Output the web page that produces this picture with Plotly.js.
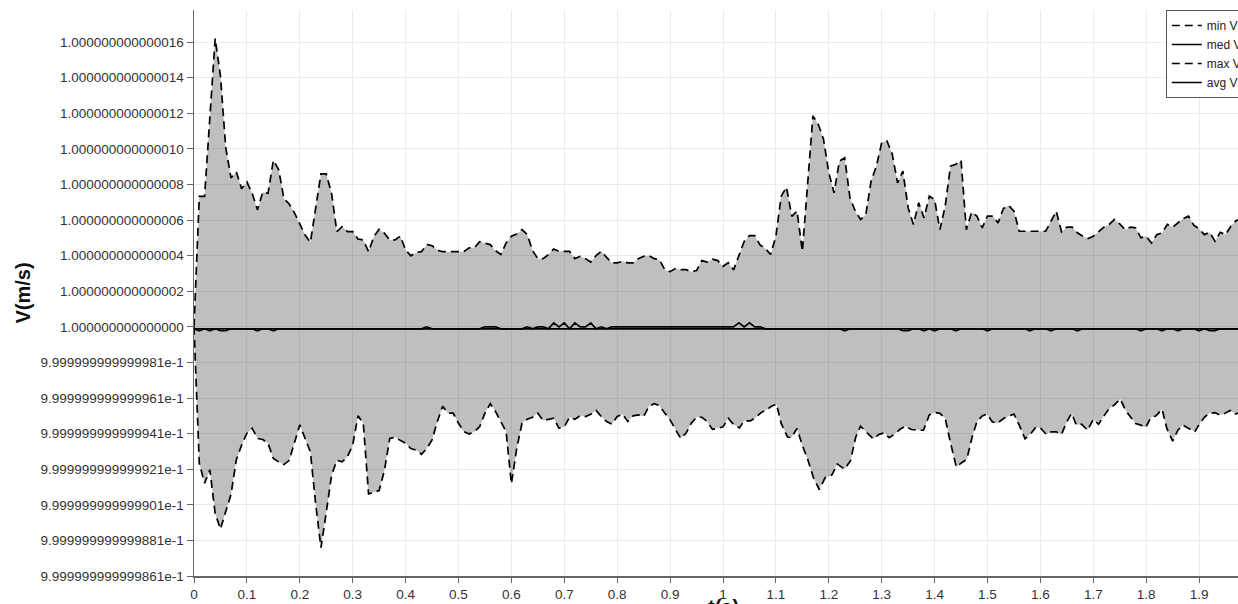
<!DOCTYPE html>
<html>
<head>
<meta charset="utf-8">
<script src="https://cdn.plot.ly/plotly-3.0.1.min.js"></script>
<style>
html,body{margin:0;padding:0;overflow:hidden;background:#fff;}
#chart{width:1300px;height:604px;}
</style>
</head>
<body>
<div id="chart"></div>
<script>
// Velocity deviation from 1 m/s, in units of 1e-15 m/s (y = 1 + v*1e-15)
// Sample times (s) for the regularly sampled parts: 0.00 .. 1.98 every 0.01
const sampleStep = 0.01;
const sampleCount = 199;

// max V, t = 0.00 .. 1.98
const maxV = [
 0, 7.33, 7.33, 11.7, 16.19, 14.1, 10.06, 8.37, 8.7, 7.76,
 8.14, 7.5, 6.57, 7.57, 7.5, 9.35, 8.84, 7.2, 6.9, 6.4,
 5.8, 5.16, 4.75, 6.67, 8.59, 8.59, 7.5, 5.35, 5.63, 5.35,
 5.35, 4.93, 4.88, 4.22, 5.07, 5.48, 5.26, 4.88, 4.88, 5.1,
 4.31, 3.99, 4.18, 4.22, 4.63, 4.56, 4.31, 4.22, 4.22, 4.22,
 4.22, 4.22, 4.44, 4.44, 4.78, 4.71, 4.62, 4.28, 4.06, 4.71,
 5.09, 5.22, 5.46, 5.18, 4.28, 3.83, 3.83, 4.06, 4.37, 4.24,
 4.24, 4.24, 3.83, 3.96, 3.83, 3.64, 4.0, 4.24, 3.9, 3.59,
 3.59, 3.68, 3.59, 3.59, 3.83, 3.96, 4.0, 3.83, 3.77, 3.21,
 3.1, 3.27, 3.21, 3.21, 3.1, 3.16, 3.72, 3.64, 3.8, 3.72,
 3.4, 3.6, 3.2, 4.0, 4.8, 5.12, 5.12, 4.6, 4.4, 4.06,
 5.09, 7.34, 7.85, 6.21, 6.5, 4.24, 8.0, 11.85, 11.38, 10.54,
 8.66, 7.53, 9.31, 9.5, 7.25, 6.5, 6.03, 6.31, 8.19, 9.03,
 10.35, 10.44, 9.69, 8.09, 8.75, 6.69, 5.75, 6.97, 6.12, 7.34,
 7.15, 5.46, 6.78, 9.03, 9.13, 9.35, 5.46, 6.44, 6.22, 5.56,
 6.22, 6.22, 5.84, 6.65, 6.82, 6.5, 5.37, 5.37, 5.37, 5.37,
 5.37, 5.37, 5.93, 6.5, 5.33, 5.6, 5.6, 5.28, 5.09, 4.96,
 5.09, 5.33, 5.6, 5.75, 6.03, 5.78, 5.46, 5.6, 5.56, 5.0,
 5.09, 4.71, 5.18, 5.28, 5.75, 5.6, 5.84, 6.08, 6.22, 5.71,
 5.5, 5.18, 5.31, 4.81, 5.31, 5.18, 5.65, 5.97, 6.03
];

// min V, t = 0.00 .. 0.99
const minVEarly = [
 0, -7.66, -8.79, -8.03, -10.48, -11.36, -10.38, -9.41, -7.47, -6.65,
 -5.98, -5.7, -6.27, -6.33, -6.55, -7.4, -7.59, -7.74, -7.5, -6.55,
 -5.51, -6.27, -7.02, -9.95, -12.41, -10.43, -8.35, -7.5, -7.59, -7.3,
 -6.65, -5.0, -5.42, -9.39, -9.29, -9.2, -8.06, -6.27, -6.21, -6.36,
 -6.55, -6.84, -6.93, -7.16, -6.84, -6.36, -5.32, -4.47, -4.85, -4.85,
 -5.42, -5.89, -6.02, -5.89, -5.61, -4.85, -4.32, -4.76, -5.32, -5.89,
 -8.82, -6.84, -5.42, -5.19, -5.08, -4.85, -5.27, -5.19, -5.13, -5.7,
 -5.61, -5.08, -5.19, -5.0, -5.04, -4.91, -4.7, -5.04, -5.32, -5.47,
 -5.04, -4.91, -5.32, -5.0, -4.95, -5.04, -4.47, -4.32, -4.43, -4.85,
 -5.23, -5.76, -6.27, -5.98, -5.42, -5.08, -5.08, -5.32, -5.76, -5.7
];
// min V, later part, read with its own times
const minTLate = [
 1.000, 1.010, 1.020, 1.031, 1.040, 1.052, 1.062, 1.072, 1.082, 1.091,
 1.101, 1.110, 1.122, 1.129, 1.140, 1.150, 1.161, 1.171, 1.182, 1.193,
 1.206, 1.216, 1.230, 1.241, 1.251, 1.260, 1.273, 1.284, 1.295, 1.305,
 1.314, 1.324, 1.334, 1.345, 1.356, 1.369, 1.379, 1.390, 1.401, 1.410,
 1.420, 1.429, 1.441, 1.452, 1.461, 1.471, 1.480, 1.490, 1.499, 1.509,
 1.518, 1.531, 1.541, 1.550, 1.560, 1.571, 1.582, 1.592, 1.601, 1.611,
 1.621, 1.630, 1.640, 1.649, 1.659, 1.668, 1.678, 1.689, 1.700, 1.710,
 1.719, 1.729, 1.740, 1.751, 1.761, 1.770, 1.780, 1.790, 1.799, 1.809,
 1.818, 1.830, 1.839, 1.850, 1.860, 1.869, 1.881, 1.892, 1.901, 1.911,
 1.920, 1.930, 1.939, 1.949, 1.959, 1.968, 1.976
];
const minVLate = [
 -5.62, -5.14, -5.49, -5.68, -5.28, -5.28, -5.09, -4.82, -4.67, -4.48,
 -4.34, -5.43, -6.19, -6.23, -5.71, -6.67, -7.52, -8.48, -9.14, -8.48,
 -8.32, -7.71, -8.0, -7.52, -6.19, -5.58, -6.0, -6.3, -6.04, -5.96,
 -6.23, -6.04, -5.77, -5.58, -5.77, -5.77, -5.81, -4.95, -4.82, -4.86,
 -5.14, -6.38, -7.87, -7.62, -7.43, -6.19, -5.33, -5.01, -4.9, -5.33,
 -5.43, -5.14, -5.01, -4.9, -5.52, -6.29, -6.0, -5.62, -5.71, -6.04,
 -5.9, -5.9, -6.04, -5.39, -4.86, -5.52, -5.47, -5.81, -5.2, -5.47,
 -5.05, -4.63, -4.38, -4.06, -4.7, -5.05, -5.43, -5.52, -5.66, -5.09,
 -5.01, -4.63, -5.71, -6.42, -5.81, -5.52, -5.71, -5.9, -5.43, -5.05,
 -4.86, -4.82, -4.95, -4.86, -4.7, -4.9, -4.82
];

// med V, t = 0.00 .. 1.98
const medV = [
 -0.111, -0.222, -0.111, -0.222, -0.111, -0.222, -0.222, -0.111, -0.111, -0.111,
 -0.111, -0.111, -0.222, -0.111, -0.111, -0.222, -0.111, -0.111, -0.111, -0.111,
 -0.111, -0.111, -0.111, -0.111, -0.111, -0.111, -0.111, -0.111, -0.111, -0.111,
 -0.111, -0.111, -0.111, -0.111, -0.111, -0.111, -0.111, -0.111, -0.111, -0.111,
 -0.111, -0.111, -0.111, -0.111, 0, -0.111, -0.111, -0.111, -0.111, -0.111,
 -0.111, -0.111, -0.111, -0.111, -0.111, 0, 0, 0, -0.111, -0.111,
 -0.111, -0.111, -0.111, 0, -0.111, 0, 0, -0.111, 0.222, 0,
 0.222, -0.111, 0.222, 0, 0, 0.222, -0.111, 0, -0.111, 0,
 0, 0, 0, 0, 0, 0, 0, 0, 0, 0,
 0, 0, 0, 0, 0, 0, 0, 0, 0, 0,
 0, 0, 0, 0.222, 0, 0.222, 0, 0, -0.111, -0.111,
 -0.111, -0.111, -0.111, -0.111, -0.111, -0.111, -0.111, -0.111, -0.111, -0.111,
 -0.111, -0.111, -0.111, -0.222, -0.111, -0.111, -0.111, -0.111, -0.111, -0.111,
 -0.111, -0.111, -0.111, -0.111, -0.222, -0.222, -0.111, -0.111, -0.222, -0.111,
 -0.222, -0.111, -0.111, -0.111, -0.222, -0.111, -0.111, -0.111, -0.111, -0.111,
 -0.222, -0.111, -0.111, -0.111, -0.111, -0.111, -0.111, -0.111, -0.222, -0.111,
 -0.111, -0.111, -0.222, -0.111, -0.111, -0.111, -0.111, -0.222, -0.111, -0.111,
 -0.111, -0.111, -0.111, -0.111, -0.111, -0.111, -0.111, -0.111, -0.111, -0.222,
 -0.111, -0.111, -0.111, -0.222, -0.111, -0.111, -0.222, -0.111, -0.111, -0.111,
 -0.222, -0.111, -0.222, -0.222, -0.111, -0.111, -0.111, -0.111, -0.111
];

// avg V (constant just below 1)
const avgT = [0, 1.98];
const avgV = [-0.111, -0.111];

// y tick positions and their labels
const yTickVals = [-14, -12, -10, -8, -6, -4, -2, 0, 2, 4, 6, 8, 10, 12, 14, 16];
const yTickText = [
 "9.999999999999861e-1", "9.999999999999881e-1", "9.999999999999901e-1",
 "9.999999999999921e-1", "9.999999999999941e-1", "9.999999999999961e-1",
 "9.999999999999981e-1", "1.000000000000000", "1.000000000000002",
 "1.000000000000004", "1.000000000000006", "1.000000000000008",
 "1.000000000000010", "1.000000000000012", "1.000000000000014",
 "1.000000000000016"
];

const sampleT = [];
for (let i = 0; i < sampleCount; i++) sampleT.push(+(i * sampleStep).toFixed(2));
const minT = sampleT.slice(0, minVEarly.length).concat(minTLate);
const minV = minVEarly.concat(minVLate);

const FONT = '"Liberation Sans", Arial, sans-serif';
const bandFill = 'rgba(0,0,0,0.25)';
const dashPat = '8px,5px';

const traces = [
  {x: sampleT, y: maxV, mode: 'lines', fill: 'tozeroy', fillcolor: bandFill,
   line: {width: 0}, showlegend: false, hoverinfo: 'skip'},
  {x: minT, y: minV, mode: 'lines', fill: 'tozeroy', fillcolor: bandFill,
   line: {width: 0}, showlegend: false, hoverinfo: 'skip'},
  {x: minT, y: minV, mode: 'lines', name: 'min V',
   line: {color: '#000', width: 1.7, dash: dashPat}},
  {x: sampleT, y: medV, mode: 'lines', name: 'med V',
   line: {color: '#000', width: 1.7}},
  {x: sampleT, y: maxV, mode: 'lines', name: 'max V',
   line: {color: '#000', width: 1.7, dash: dashPat}},
  {x: avgT, y: avgV, mode: 'lines', name: 'avg V',
   line: {color: '#000', width: 1.7}}
];

const layout = {
  width: 1300, height: 604,
  margin: {l: 194, r: 48, t: 10, b: 28, autoexpand: false},
  paper_bgcolor: '#fff', plot_bgcolor: '#fff',
  font: {family: FONT, color: '#333', size: 13.5},
  xaxis: {
    range: [0, 2], tick0: 0, dtick: 0.1,
    showgrid: true, gridcolor: '#ebebeb', gridwidth: 1,
    zeroline: false, showline: true, linecolor: '#666', linewidth: 1.5,
    ticks: 'outside', ticklen: 5, tickcolor: '#666', tickwidth: 1,
    tickfont: {family: FONT, size: 13.5, color: '#333'},
    automargin: false
  },
  yaxis: {
    range: [-14, 17.8], tickmode: 'array', tickvals: yTickVals, ticktext: yTickText,
    showgrid: true, gridcolor: '#ebebeb', gridwidth: 1,
    zeroline: false, showline: true, linecolor: '#666', linewidth: 1.5,
    ticks: 'outside', ticklen: 6, tickcolor: '#666', tickwidth: 1,
    tickfont: {family: FONT, size: 13.5, color: '#333'},
    title: {text: 'V(m/s)', font: {family: FONT, size: 20, color: '#111', weight: 'bold'}, standoff: 4},
    automargin: false
  },
  annotations: [{
    text: '<b>t(s)</b>', xref: 'paper', yref: 'paper', x: 0.5, y: -0.031,
    xanchor: 'center', yanchor: 'top', showarrow: false,
    font: {family: FONT, size: 20, color: '#111'}
  }],
  legend: {
    x: 0.9185, y: 1, xanchor: 'left', yanchor: 'top',
    bgcolor: '#fff', bordercolor: '#555', borderwidth: 1,
    font: {family: FONT, size: 12, color: '#222'},
    tracegroupgap: 0
  },
  showlegend: true
};

Plotly.newPlot('chart', traces, layout, {staticPlot: true, displayModeBar: false});
</script>
</body>
</html>
